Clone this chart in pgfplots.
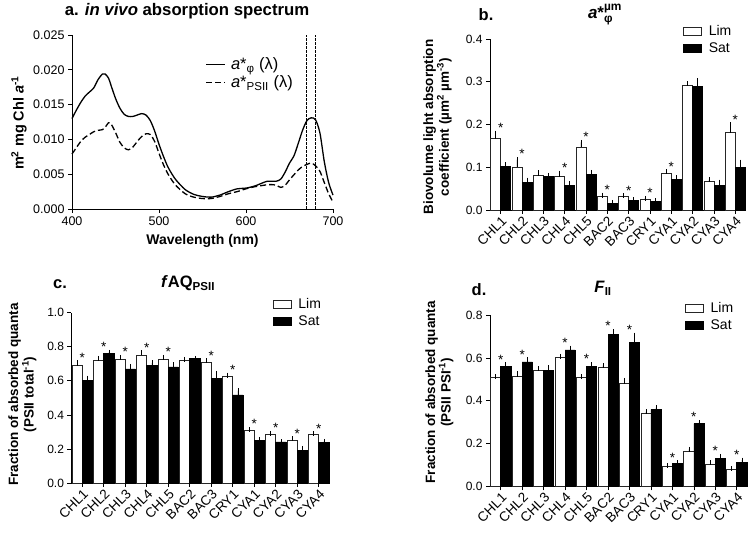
\documentclass[border=0pt]{standalone}
\usepackage{pgfplots}
\pgfplotsset{compat=1.18}
\usepackage{pgfplotstable}
\usepackage{amsmath}
\usepackage{fontspec}
\setmainfont{Liberation Sans}

\newcommand{\fs}[1]{\fontsize{#1}{#1}\selectfont}

\pgfplotstableread{
nm phi psii
400 0.0130 0.0079
405 0.0142 0.0088
410 0.0153 0.0097
415 0.0162 0.0103
420 0.0168 0.0107
425 0.0174 0.0111
430 0.0186 0.0113
435 0.0194 0.0114
438 0.0194 0.0117
442 0.0188 0.0124
445 0.0177 0.0122
450 0.0159 0.0110
455 0.0145 0.0096
460 0.0136 0.0088
465 0.0133 0.0085
470 0.0133 0.0089
475 0.0135 0.0097
480 0.0137 0.0104
485 0.0135 0.0108
490 0.0127 0.0107
495 0.0112 0.0097
500 0.0093 0.0080
505 0.0076 0.0064
510 0.0061 0.0051
515 0.0050 0.0041
520 0.0041 0.0033
530 0.0028 0.0022
540 0.0021 0.0017
550 0.0018 0.0015
560 0.0017 0.0015
570 0.0020 0.0018
580 0.0025 0.0022
590 0.0029 0.0025
600 0.0030 0.0029
610 0.0033 0.0032
620 0.0038 0.0034
625 0.0040 0.0035
630 0.0040 0.0035
635 0.0040 0.0034
640 0.0043 0.0031
645 0.0053 0.0034
650 0.0066 0.0042
655 0.0076 0.0049
660 0.0094 0.0056
665 0.0113 0.0061
670 0.0127 0.0064
675 0.0131 0.0066
680 0.0128 0.0062
685 0.0109 0.0054
690 0.0068 0.0038
695 0.0038 0.0022
700 0.0020 0.0010
}\specdata

% panel b
\pgfplotstableread{
i lim limerr sat saterr
0 0.167 0.013 0.102 0.004
1 0.100 0.018 0.065 0.005
2 0.080 0.007 0.079 0.002
3 0.078 0.008 0.058 0.003
4 0.147 0.011 0.083 0.005
5 0.031 0.004 0.016 0.002
6 0.031 0.002 0.023 0.001
7 0.026 0.001 0.021 0.001
8 0.085 0.004 0.072 0.003
9 0.291 0.004 0.289 0.013
10 0.066 0.005 0.058 0.007
11 0.181 0.018 0.099 0.013
}\datab
\pgfplotstableread{
i y
0 0.180
1 0.118
3 0.086
4 0.158
5 0.035
6 0.033
7 0.027
8 0.089
11 0.199
}\starb

% panel c
\pgfplotstableread{
i lim limerr sat saterr
0 0.689 0.016 0.604 0.012
1 0.722 0.010 0.761 0.006
2 0.728 0.010 0.670 0.015
3 0.751 0.014 0.691 0.014
4 0.726 0.012 0.682 0.011
5 0.720 0.006 0.730 0.002
6 0.709 0.008 0.614 0.029
7 0.629 0.004 0.517 0.025
8 0.307 0.006 0.250 0.006
9 0.285 0.006 0.241 0.002
10 0.250 0.010 0.190 0.014
11 0.285 0.004 0.237 0.008
}\datac
\pgfplotstableread{
i y
0 0.705
1 0.767
2 0.738
3 0.765
4 0.738
6 0.717
7 0.633
8 0.313
9 0.291
10 0.260
11 0.289
}\starc

% panel d
\pgfplotstableread{
i lim limerr sat saterr
0 0.509 0.003 0.562 0.006
1 0.513 0.014 0.582 0.009
2 0.544 0.007 0.541 0.014
3 0.604 0.004 0.638 0.008
4 0.509 0.004 0.560 0.009
5 0.555 0.010 0.710 0.014
6 0.480 0.016 0.672 0.035
7 0.340 0.008 0.360 0.008
8 0.095 0.002 0.108 0.002
9 0.162 0.011 0.293 0.005
10 0.103 0.008 0.129 0.011
11 0.080 0.003 0.112 0.010
}\datad
\pgfplotstableread{
i y
0 0.568
1 0.591
3 0.646
4 0.569
5 0.724
6 0.707
8 0.110
9 0.298
10 0.140
11 0.122
}\stard

\pgfplotsset{
  base/.style={
    scale only axis,
    axis x line*=bottom, axis y line*=left,
    axis line style={line width=0.7pt, black},
    tick align=outside, major tick length=4pt,
    every tick/.style={line width=0.7pt, black},
    enlargelimits=false,
    /pgf/number format/assume math mode=true,
    ticklabel style={font=\fs{12.5}},
    clip=false,
  },
  barax/.style={
    base,
    xmin=-0.5, xmax=11.5, ymin=0,
    xtick={0,1,2,3,4,5,6,7,8,9,10,11},
    xticklabels={CHL1,CHL2,CHL3,CHL4,CHL5,BAC2,BAC3,CRY1,CYA1,CYA2,CYA3,CYA4},
    xticklabel style={font=\fs{13.5}, rotate=45, anchor=north east, inner sep=1pt},
    yticklabel style={font=\fs{12}, /pgf/number format/fixed, /pgf/number format/fixed zerofill, /pgf/number format/precision=1},
    ylabel style={font=\bfseries\fs{13.5}, align=center, anchor=center},
    legend cell align=left,
    legend style={draw=none, fill=none, anchor=north west, font=\fs{14}, row sep=2pt, column sep=5pt},
  },
  limbar/.style={ybar, bar width=0.47, bar shift=0pt, fill=white, draw=black!85, line width=0.6pt, forget plot,
     error bars/y dir=plus, error bars/y explicit,
     error bars/error bar style={line width=0.6pt, black},
     error bars/error mark options={line width=0.6pt, black, mark size=2.5pt}},
  satbar/.style={ybar, bar width=0.47, bar shift=0pt, fill=black, draw=black, line width=0.6pt, forget plot,
     error bars/y dir=plus, error bars/y explicit,
     error bars/error bar style={line width=0.6pt, black},
     error bars/error mark options={line width=0.6pt, black, mark size=2.5pt}},
  star/.style={draw=none, mark=none, forget plot, nodes near coords={*},
     every node near coord/.append style={font=\fs{13.5}, inner sep=0.5pt, anchor=south}},
  boxleg/.style={legend image code/.code={\draw[##1, line width=0.6pt] (0pt,-4pt) rectangle (18pt,4pt);}},
}

\begin{document}
\begin{tikzpicture}
\useasboundingbox (0,0) rectangle (751pt,534pt);

% ---------- panel a ----------
\begin{axis}[base,
  at={(72pt,325pt)}, anchor=south west, width=261pt, height=174pt,
  xmin=400, xmax=700, ymin=0, ymax=0.025,
  xtick={400,500,600,700},
  ytick={0,0.005,0.01,0.015,0.02,0.025},
  scaled y ticks=false,
  yticklabel style={/pgf/number format/fixed, /pgf/number format/fixed zerofill, /pgf/number format/precision=3},
  xlabel={Wavelength (nm)},
  xlabel style={font=\bfseries\fs{14}, at={(axis description cs:0.5,-0.184)}, anchor=center},
  ylabel={m\textsuperscript{2} mg Chl \textit{a}\textsuperscript{-1}},
  ylabel style={font=\bfseries\fs{14.5}, at={(axis description cs:-0.203,0.494)}, anchor=center},
  legend style={at={(0.5,0.895)}, anchor=north west, draw=none, fill=none, font=\fs{16.5}, row sep=1pt, column sep=3pt},
  legend cell align=left,
  legend image code/.code={\draw[#1] (0pt,0pt) -- (19pt,0pt);},
]
\addplot[black, line width=1.3pt, smooth] table[x=nm, y=phi] {\specdata};
\addlegendentry{\textit{a}*\textsubscript{φ} (λ)}
\addplot[black, line width=1.3pt, smooth, dash pattern=on 6pt off 3pt] table[x=nm, y=psii] {\specdata};
\addlegendentry{\textit{a}*\textsubscript{PSII} (λ)}
\addplot[black, line width=1pt, dash pattern=on 2.5pt off 1.5pt, forget plot] coordinates {(670,0) (670,0.025)};
\addplot[black, line width=1pt, dash pattern=on 2.5pt off 1.5pt, forget plot] coordinates {(680,0) (680,0.025)};
\end{axis}

% ---------- panel b ----------
\begin{axis}[barax,
  at={(490pt,324pt)}, anchor=south west, width=256pt, height=171pt,
  ymax=0.4, ytick={0,0.1,0.2,0.3,0.4},
  ylabel={Biovolume light absorption\\coefficient (µm\textsuperscript{2} µm\textsuperscript{-3})},
  ylabel style={at={(axis description cs:-0.205,0.485)}},
  legend style={at={(0.742,1.105)}},
]
\addplot[limbar] table[x expr=\thisrow{i}-0.235, y=lim, y error=limerr] {\datab};
\addplot[satbar] table[x expr=\thisrow{i}+0.235, y=sat, y error=saterr] {\datab};
\addplot[star] table[x=i, y=y] {\starb};
\addlegendimage{boxleg, fill=white, draw=black!85}
\addlegendentry{Lim}
\addlegendimage{boxleg, fill=black, draw=black}
\addlegendentry{Sat}
\end{axis}

% ---------- panel c ----------
\begin{axis}[barax,
  at={(71.5pt,51pt)}, anchor=south west, width=258pt, height=170.3pt,
  ymax=1.0, ytick={0,0.2,0.4,0.6,0.8,1.0},
  ylabel={Fraction of absorbed quanta\\(PSII total\textsuperscript{-1})},
  ylabel style={at={(axis description cs:-0.19,0.52)}},
  legend style={at={(0.768,1.11)}},
]
\addplot[limbar] table[x expr=\thisrow{i}-0.235, y=lim, y error=limerr] {\datac};
\addplot[satbar] table[x expr=\thisrow{i}+0.235, y=sat, y error=saterr] {\datac};
\addplot[star] table[x=i, y=y] {\starc};
\addlegendimage{boxleg, fill=white, draw=black!85}
\addlegendentry{Lim}
\addlegendimage{boxleg, fill=black, draw=black}
\addlegendentry{Sat}
\end{axis}

% ---------- panel d ----------
\begin{axis}[barax,
  at={(490pt,47.7pt)}, anchor=south west, width=257.5pt, height=171pt,
  ymax=0.8, ytick={0,0.2,0.4,0.6,0.8},
  ylabel={Fraction of absorbed quanta\\(PSII PSI\textsuperscript{-1})},
  ylabel style={at={(axis description cs:-0.197,0.55)}},
  legend style={at={(0.745,1.10)}},
]
\addplot[limbar] table[x expr=\thisrow{i}-0.235, y=lim, y error=limerr] {\datad};
\addplot[satbar] table[x expr=\thisrow{i}+0.235, y=sat, y error=saterr] {\datad};
\addplot[star] table[x=i, y=y] {\stard};
\addlegendimage{boxleg, fill=white, draw=black!85}
\addlegendentry{Lim}
\addlegendimage{boxleg, fill=black, draw=black}
\addlegendentry{Sat}
\end{axis}

% ---------- titles ----------
\node[font=\bfseries\fs{16.75}] at (187pt,523pt) {a. \textit{in vivo} absorption spectrum};
\node[font=\bfseries\fs{16.5}] at (486pt,519pt) {b.};
\node[font=\bfseries\fs{17}, anchor=base] at (605pt,515pt) {\textit{a}*$_{\text{\upshape φ}}^{\text{\upshape µm}}$};
\node[font=\bfseries\fs{16.5}] at (60pt,249.5pt) {c.};
\node[font=\bfseries\fs{16.5}, anchor=base] at (188pt,246.3pt) {\textit{f}AQ\textsubscript{PSII}};
\node[font=\bfseries\fs{16.5}] at (479pt,244.5pt) {d.};
\node[font=\bfseries\fs{16.5}, anchor=base] at (603pt,241.3pt) {\textit{F}\textsubscript{II}};
\end{tikzpicture}
\end{document}
